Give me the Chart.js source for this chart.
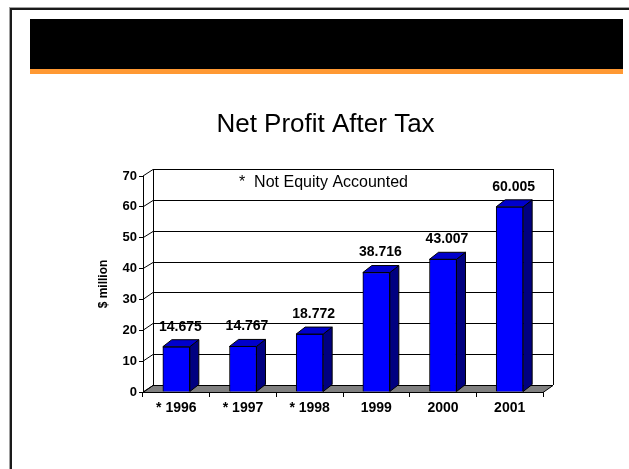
<!DOCTYPE html>
<html>
<head>
<meta charset="utf-8">
<script src="https://cdn.jsdelivr.net/npm/chart.js@4.4.1/dist/chart.umd.min.js"></script>
<style>
  html, body { margin: 0; padding: 0; background: #fff; }
  #slide { position: relative; width: 629px; height: 469px; overflow: hidden; }
  .frame-outer { position: absolute; left: 9px; top: 7px; width: 700px; height: 600px;
    border-left: 1px solid #a0a0a0; border-top: 1px solid #a0a0a0; }
  .frame-inner { position: absolute; left: 10px; top: 8px; width: 700px; height: 600px;
    border-left: 2px solid #1a1a1a; border-top: 2px solid #1a1a1a; }
  .header { position: absolute; left: 30px; top: 19px; width: 593px; height: 50px; background: #000; }
  .stripe { position: absolute; left: 30px; top: 69px; width: 593px; height: 5px; background: #ff9933; }
  #myChart { position: absolute; left: 0; top: 0; }
</style>
</head>
<body>
<div id="slide">
  <div class="frame-outer"></div>
  <div class="frame-inner"></div>
  <div class="header"></div>
  <div class="stripe"></div>
  <canvas id="myChart" width="629" height="469"></canvas>
</div>
<script>
// chart data
var years = ["* 1996", "* 1997", "* 1998", "1999", "2000", "2001"];
var netProfit = [14.675, 14.767, 18.772, 38.716, 43.007, 60.005];
var yTicks = [0, 10, 20, 30, 40, 50, 60, 70];

var chartTitle = "Net Profit After Tax";
var noteText = "*  Not Equity Accounted";
var yTitle = "$ million";

var FONT = "'Liberation Sans', Arial, sans-serif";

// 3d depth of the walls and of the bars
var WALL_DX = 10, WALL_DY = -7;
var BAR_DX = 9, BAR_DY = -7;

function crisp(v) {
  return Math.round(v) + 0.5;
}

// draws floor, back wall and its grid lines under the bars
var wallsPlugin = {
  id: "walls",
  beforeDatasetsDraw: function (chart) {
    var ctx = chart.ctx;
    var area = chart.chartArea;
    var y = chart.scales.y;
    var l = area.left, r = area.right;
    var b = y.getPixelForValue(yTicks[0]);
    var t = y.getPixelForValue(yTicks[yTicks.length - 1]);

    ctx.save();
    ctx.lineWidth = 1;
    ctx.strokeStyle = "#000";

    // floor
    ctx.fillStyle = "#808080";
    ctx.beginPath();
    ctx.moveTo(l, crisp(b));
    ctx.lineTo(l + WALL_DX, crisp(b + WALL_DY));
    ctx.lineTo(r + WALL_DX, crisp(b + WALL_DY));
    ctx.lineTo(r, crisp(b));
    ctx.closePath();
    ctx.fill();
    ctx.stroke();

    // grid lines on back wall + side wall
    for (var i = 0; i < yTicks.length; i++) {
      var py = y.getPixelForValue(yTicks[i]);
      ctx.beginPath();
      ctx.moveTo(l + WALL_DX, crisp(py + WALL_DY));
      ctx.lineTo(r + WALL_DX, crisp(py + WALL_DY));
      ctx.stroke();
      ctx.beginPath();
      ctx.moveTo(l, py);
      ctx.lineTo(l + WALL_DX, crisp(py + WALL_DY));
      ctx.stroke();
    }

    // wall edges
    ctx.beginPath();
    ctx.moveTo(crisp(l + WALL_DX), t + WALL_DY);
    ctx.lineTo(crisp(l + WALL_DX), b + WALL_DY);
    ctx.moveTo(crisp(r + WALL_DX), t + WALL_DY);
    ctx.lineTo(crisp(r + WALL_DX), b + WALL_DY);
    ctx.stroke();
    ctx.restore();
  },

  // side + top faces of the bars and the value labels
  afterDatasetsDraw: function (chart) {
    var ctx = chart.ctx;
    var meta = chart.getDatasetMeta(0);
    ctx.save();
    ctx.lineWidth = 1;
    ctx.strokeStyle = "#000";
    for (var i = 0; i < meta.data.length; i++) {
      var p = meta.data[i].getProps(["x", "y", "base", "width"], true);
      var left = p.x - p.width / 2;
      var right = p.x + p.width / 2;

      // side
      ctx.fillStyle = "#000080";
      ctx.beginPath();
      ctx.moveTo(right, p.y);
      ctx.lineTo(right + BAR_DX, p.y + BAR_DY);
      ctx.lineTo(right + BAR_DX, p.base + BAR_DY);
      ctx.lineTo(right, p.base);
      ctx.closePath();
      ctx.fill();
      ctx.stroke();

      // top
      ctx.fillStyle = "#0000cc";
      ctx.beginPath();
      ctx.moveTo(left, p.y);
      ctx.lineTo(left + BAR_DX, p.y + BAR_DY);
      ctx.lineTo(right + BAR_DX, p.y + BAR_DY);
      ctx.lineTo(right, p.y);
      ctx.closePath();
      ctx.fill();
      ctx.stroke();

      // value label
      ctx.fillStyle = "#000";
      ctx.font = "bold 14px " + FONT;
      ctx.textAlign = "center";
      ctx.textBaseline = "middle";
      ctx.fillText(netProfit[i].toFixed(3), p.x + 4, p.y - 20);
    }
    ctx.restore();
  },

  // slide title and footnote text
  afterDraw: function (chart) {
    var ctx = chart.ctx;
    ctx.save();
    ctx.fillStyle = "#000";
    ctx.textBaseline = "alphabetic";
    ctx.font = "26px " + FONT;
    ctx.textAlign = "center";
    ctx.fillText(chartTitle, 325.5, 132);
    ctx.font = "16px " + FONT;
    ctx.textAlign = "left";
    ctx.fillText(noteText, 239, 187);
    ctx.restore();
  }
};

var ctx = document.getElementById("myChart").getContext("2d");
var myChart = new Chart(ctx, {
  type: "bar",
  data: {
    labels: years,
    datasets: [
      {
        label: "Net Profit After Tax",
        data: netProfit,
        backgroundColor: "#0000ff",
        borderColor: "#000",
        borderWidth: 1,
        barThickness: 27
      }
    ]
  },
  options: {
    responsive: false,
    animation: false,
    devicePixelRatio: 1,
    layout: { padding: { left: 0, right: 86, top: 176, bottom: 47 } },
    plugins: {
      legend: { display: false },
      tooltip: { enabled: false }
    },
    scales: {
      x: {
        afterFit: function (scale) { scale.height = 30; },
        grid: { drawOnChartArea: false, drawTicks: true, tickLength: 5, color: "#000", offset: true },
        border: { display: true, color: "#000", width: 1 },
        ticks: {
          color: "#000",
          font: { family: FONT, size: 14, weight: "bold" },
          padding: 3,
          maxRotation: 0,
          autoSkip: false
        }
      },
      y: {
        min: yTicks[0],
        max: yTicks[yTicks.length - 1],
        afterBuildTicks: function (scale) {
          scale.ticks = yTicks.map(function (v) { return { value: v }; });
        },
        afterFit: function (scale) { scale.width = 143; },
        grid: { drawOnChartArea: false, drawTicks: true, tickLength: 4, color: "#000" },
        border: { display: true, color: "#000", width: 1 },
        ticks: {
          color: "#000",
          font: { family: FONT, size: 13, weight: "bold" },
          padding: 2
        },
        title: {
          display: true,
          text: yTitle,
          color: "#000",
          font: { family: FONT, size: 12, weight: "bold" },
          padding: { top: 96, bottom: 0 }
        }
      }
    }
  },
  plugins: [wallsPlugin]
});
</script>
</body>
</html>
